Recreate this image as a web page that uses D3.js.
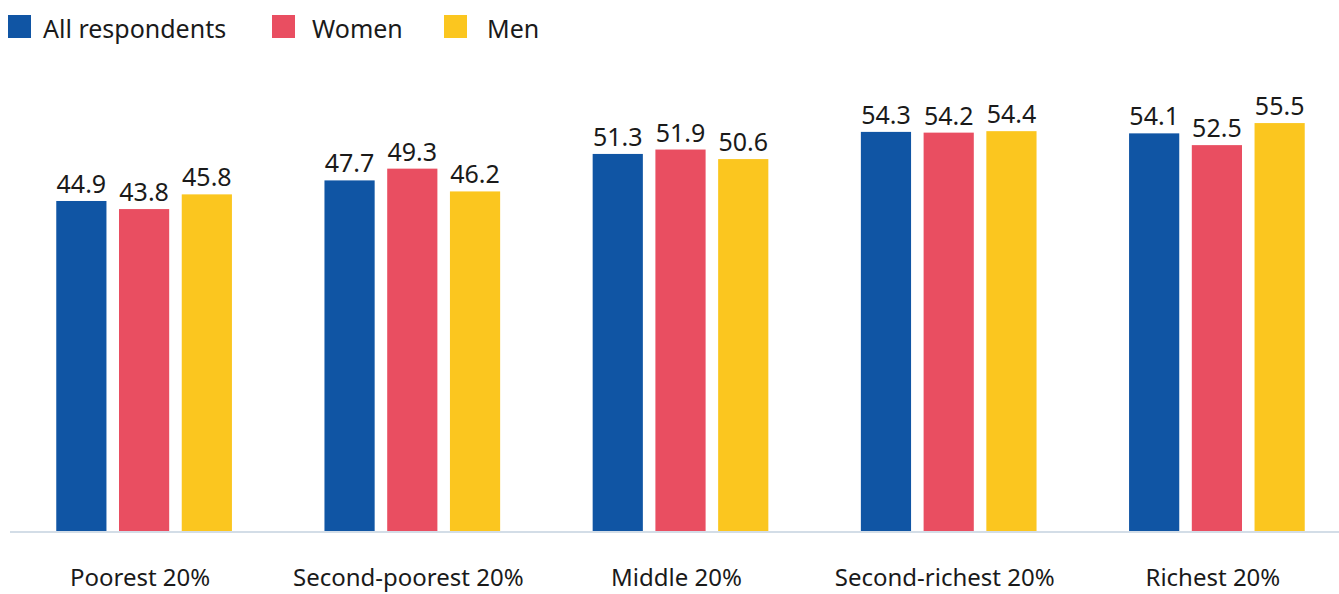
<!DOCTYPE html>
<html>
<head>
<meta charset="utf-8">
<script src="https://cdn.jsdelivr.net/npm/d3@7"></script>
<style>
  body { margin: 0; background: #fff; }
  text { font-family: "Noto Sans", sans-serif; fill: #1a1a1a; }
</style>
</head>
<body>
<div id="chart"></div>
<script>
var categories = ['Poorest 20%', 'Second-poorest 20%', 'Middle 20%', 'Second-richest 20%', 'Richest 20%'];
var seriesNames = ['All respondents', 'Women', 'Men'];
var allValues = [44.9, 47.7, 51.3, 54.3, 54.1];
var womenValues = [43.8, 49.3, 51.9, 54.2, 52.5];
var menValues = [45.8, 46.2, 50.6, 54.4, 55.5];
var colors = ['#1055a4', '#e94e61', '#fbc61f'];

var width = 1339, height = 594;
var baseline = 531;

var svg = d3.select('#chart').append('svg')
    .attr('width', width)
    .attr('height', height);

var series = [allValues, womenValues, menValues];

var x0 = d3.scaleBand()
    .domain(categories)
    .range([10, 1351])
    .paddingInner(0.345)
    .paddingOuter(0.1725);

var x1 = d3.scaleBand()
    .domain(d3.range(seriesNames.length))
    .range([0, x0.bandwidth()])
    .paddingInner(0.2);

var y = d3.scaleLinear()
    .domain([0, 60])
    .range([baseline, baseline - 441]);

// legend
var legendX = [8, 272, 444];
var legendGap = [35, 40, 43];
var legend = svg.append('g').selectAll('g')
    .data(seriesNames)
    .enter().append('g')
      .attr('transform', function(d, i) { return 'translate(' + legendX[i] + ',15)'; });

legend.append('rect')
    .attr('width', 23)
    .attr('height', 23)
    .style('fill', function(d, i) { return colors[i]; });

legend.append('text')
    .attr('x', function(d, i) { return legendGap[i]; })
    .attr('y', 23)
    .style('font-size', '25px')
    .text(function(d) { return d; });

// bars
var group = svg.append('g').selectAll('g')
    .data(categories)
    .enter().append('g')
      .attr('transform', function(d) { return 'translate(' + x0(d) + ',0)'; });

var cells = group.selectAll('g')
    .data(function(d, ci) { return series.map(function(s, si) { return {si: si, value: s[ci]}; }); })
    .enter().append('g');

cells.append('rect')
    .attr('x', function(d) { return x1(d.si); })
    .attr('y', function(d) { return y(d.value); })
    .attr('width', x1.bandwidth())
    .attr('height', function(d) { return baseline - y(d.value); })
    .style('fill', function(d) { return colors[d.si]; });

cells.append('text')
    .attr('x', function(d) { return x1(d.si) + x1.bandwidth() / 2; })
    .attr('y', function(d) { return y(d.value) - 8; })
    .attr('text-anchor', 'middle')
    .style('font-size', '25px')
    .text(function(d) { return d.value.toFixed(1); });

// baseline
svg.append('line')
    .attr('x1', 10)
    .attr('x2', width)
    .attr('y1', baseline + 1)
    .attr('y2', baseline + 1)
    .style('stroke', '#d3dde7')
    .style('stroke-width', 2);

// category labels
svg.append('g').selectAll('text')
    .data(categories)
    .enter().append('text')
      .attr('x', function(d) { return x0(d) + x0.bandwidth() / 2 - 4; })
      .attr('y', 586)
      .attr('text-anchor', 'middle')
      .style('font-size', '24px')
      .text(function(d) { return d; });
</script>
</body>
</html>
